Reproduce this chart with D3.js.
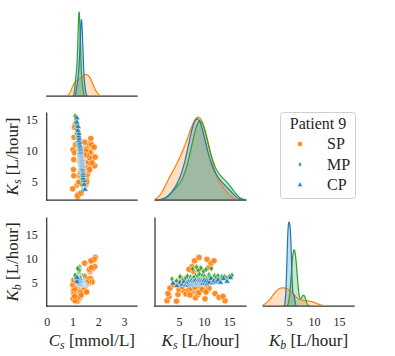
<!DOCTYPE html>
<html><head><meta charset="utf-8">
<script src="https://cdn.jsdelivr.net/npm/d3@7"></script>
<style>body{margin:0;background:#fff}</style>
</head><body><svg id="c" width="395" height="356"></svg>
<script>
// ---------------- data ----------------
const groups = ["SP", "MP", "CP"];
const legendTitle = "Patient 9";
const colors = ["#ff7f0e", "#2ca02c", "#1f77b4"];

const spCs = [1.20,1.23,1.20,1.42,1.33,1.17,1.23,1.37,1.25,1.05,1.27,1.43,1.31,1.04,1.43,1.50,1.28,1.29,1.41,1.43,1.02,1.52,1.32,1.12,1.44,1.06,1.21,1.08,1.34,1.10,1.55,1.08,
  1.52,1.54,1.58,1.64,1.57,1.68,1.62,1.70,1.79,1.72,1.68,1.53,1.76,1.63,1.66,1.51,1.56,1.86,1.55,1.01,1.05,1.66,1.45,1.74,
  1.76,1.88,1.84,1.47,1.71];
const spKs = [2.6,3.0,2.8,6.8,3.2,4.5,4.8,7.7,5.0,8.6,6.0,5.6,6.4,7.0,7.4,8.0,8.3,8.8,9.3,9.2,10.2,10.5,9.0,11.0,8.2,12.2,13.0,9.7,7.2,14.2,10.4,13.8,
  4.6,5.4,6.2,6.8,7.3,7.9,8.2,8.7,9.1,9.5,9.8,10.3,10.7,11.1,8.9,10.0,9.3,7.6,5.0,3.9,6.0,7.0,9.4,11.0,
  8.1,9.0,10.6,11.4,12.0];
const spKb = [1.3,2.2,2.8,3.4,3.9,1.2,2.6,3.1,3.6,3.0,3.3,4.2,2.7,3.5,3.9,4.4,1.9,2.6,3.6,4.3,1.7,3.3,3.0,3.9,4.1,2.8,2.0,3.7,2.5,1.3,3.1,2.2,
  5.2,6.0,4.8,5.6,5.5,7.4,5.0,5.4,8.0,5.8,5.9,4.7,5.2,5.3,7.7,4.9,5.7,8.4,5.1,4.6,5.6,7.8,6.4,8.2,
  9.6,10.3,9.9,9.1,9.6];

const mpCs = [1.40,1.36,1.38,1.33,1.33,1.30,1.33,1.30,1.31,1.28,1.30,1.27,1.30,1.27,1.28,1.25,1.29,1.26,1.28,1.25,1.27,1.24,1.28,1.24,1.26,1.23,1.26,1.24,1.25,1.23,1.25,1.22,1.25,1.22,1.23,1.20,1.23,1.20,1.21,1.18,1.19,1.16,1.18,1.14,1.15,1.11,1.13,1.10,1.30,1.24];
const mpKs = [3.6,4.5,5.2,5.8,6.3,6.7,7.0,7.3,7.5,7.7,7.9,8.1,8.3,8.4,8.5,8.6,8.7,8.8,8.9,9.0,9.1,9.2,9.3,9.4,9.5,9.6,9.7,9.8,9.9,10.0,10.1,10.2,10.4,10.6,10.8,11.0,11.2,11.5,11.8,12.1,12.4,12.8,13.2,13.6,14.1,14.6,15.1,15.6,8.0,9.45];
const mpKb = [5.8,5.4,6.3,5.6,6.0,6.4,5.5,6.2,5.8,7.9,6.1,5.6,6.5,5.9,8.3,5.7,6.4,5.4,7.6,6.0,6.8,5.8,5.6,8.1,6.2,5.9,6.6,5.5,7.4,6.1,6.4,5.8,7.8,6.0,5.7,6.7,6.2,8.0,5.9,6.5,6.1,6.5,5.7,6.3,6.3,6.0,6.4,6.6,6.1,5.7];

const cpCs = [1.49,1.45,1.47,1.41,1.42,1.40,1.42,1.39,1.40,1.36,1.40,1.37,1.40,1.35,1.37,1.36,1.39,1.35,1.37,1.33,1.37,1.35,1.34,1.37,1.32,1.35,1.33,1.35,1.32,1.34,1.30,1.34,1.31,1.32,1.30,1.33,1.30,1.32,1.28,1.30,1.27,1.29,1.24,1.26,1.24,1.25,1.21,1.22,1.17,1.17];
const cpKs = [3.8,4.6,5.2,5.6,6.0,6.3,6.6,6.8,7.0,7.2,7.4,7.5,7.6,7.7,7.8,7.9,8.0,8.1,8.2,8.3,8.4,8.5,8.6,8.7,8.8,8.9,9.0,9.1,9.2,9.3,9.4,9.5,9.6,9.7,9.8,10.0,10.2,10.4,10.6,10.8,11.1,11.4,11.7,12.0,12.4,12.8,13.3,13.9,14.6,15.3];
const cpKb = [4.9,4.4,5.1,4.7,5.2,4.6,5.0,4.5,5.2,4.9,4.7,5.4,4.6,5.1,4.9,5.3,4.6,5.2,4.8,5.5,4.7,5.0,4.8,5.3,4.7,5.1,4.9,5.5,4.8,5.3,5.0,5.4,4.8,5.2,4.9,5.5,4.9,5.4,4.8,5.3,5.1,5.9,5.0,5.4,5.2,5.6,5.1,5.9,5.3,6.1];

const csTicks = [0, 1, 2, 3];
const ksTicks = [5, 10, 15];
const kbTicks = [5, 10, 15];

// ---------------- layout ----------------
const groupData = [[spCs, spKs, spKb], [mpCs, mpKs, mpKb], [cpCs, cpKs, cpKb]];
const varLabels = [["C", "s", " [mmol/L]"], ["K", "s", " [L/hour]"], ["K", "b", " [L/hour]"]];
const varTicks = [csTicks, ksTicks, kbTicks];
const cols = [[46.7, 137], [155, 246], [263, 354]];
const rows = [[8, 96], [113, 200], [218, 306]];
const xDomains = [[0, 3.5], [0.2, 18.4], [-0.2, 18]];
const yDomains = [null, [2.1, 16.1], [0.2, 18.5]];
const FONT = "'Liberation Serif','DejaVu Serif',serif";
const TXT = "#262626", SPINE = "#333";

const svg = d3.select("#c");
const xS = xDomains.map((d, j) => d3.scaleLinear(d, cols[j]));
const yS = yDomains.map((d, i) => d ? d3.scaleLinear(d, [rows[i][1], rows[i][0]]) : null);
const N = d3.sum(groupData, g => g[0].length);

const defs = svg.append("defs");
for (let i = 0; i < 3; i++) for (let j = 0; j <= i; j++) {
  defs.append("clipPath").attr("id", `cp${i}${j}`).append("rect")
    .attr("x", cols[j][0]).attr("y", rows[i][0] - 2)
    .attr("width", cols[j][1] - cols[j][0]).attr("height", rows[i][1] - rows[i][0] + 2);
}

function kde(vals) {
  const n = vals.length;
  const bw = d3.deviation(vals) * Math.pow(n, -0.2);
  const lo = d3.min(vals) - 3 * bw, hi = d3.max(vals) + 3 * bw;
  return d3.range(200).map(k => {
    const x = lo + (hi - lo) * k / 199;
    let s = 0;
    for (const v of vals) { const z = (x - v) / bw; s += Math.exp(-0.5 * z * z); }
    return [x, s / (n * bw * Math.sqrt(2 * Math.PI)) * n / N];
  });
}

const symPaths = [
  d3.symbol(d3.symbolCircle, 30)(),
  "M0,-3.3L2.1,0L0,3.3L-2.1,0Z",
  d3.symbol(d3.symbolTriangle, 17)()
];
const legSymPaths = [
  d3.symbol(d3.symbolCircle, 20)(),
  "M0,-2.8L1.7,0L0,2.8L-1.7,0Z",
  d3.symbol(d3.symbolTriangle, 12)()
];

const spineG = svg.append("g");
function spine(x1, y1, x2, y2) {
  spineG.append("line").attr("x1", x1).attr("y1", y1).attr("x2", x2).attr("y2", y2)
    .attr("stroke", SPINE).attr("stroke-width", 1.25).attr("stroke-linecap", "square");
}

for (let i = 0; i < 3; i++) {
  for (let j = 0; j <= i; j++) {
    const x = xS[j];
    spine(cols[j][0], rows[i][1], cols[j][1], rows[i][1]);
    if (i === j) {
      const curves = groupData.map(g => kde(g[i]));
      const ymax = d3.max(curves, c => d3.max(c, d => d[1]));
      const y = d3.scaleLinear([0, ymax * 1.05], [rows[i][1], rows[i][0]]);
      const area = d3.area().x(d => x(d[0])).y0(y(0)).y1(d => y(d[1]));
      const g = svg.append("g").attr("clip-path", `url(#cp${i}${j})`);
      curves.forEach((c, k) => {
        g.append("path").attr("d", area(c)).attr("fill", colors[k]).attr("fill-opacity", 0.25)
          .attr("stroke", "none");
      });
      curves.forEach((c, k) => {
        g.append("path").attr("d", area(c) + "Z").attr("fill", "none")
          .attr("stroke", colors[k]).attr("stroke-width", 1.2).attr("stroke-linejoin", "round");
      });
    } else {
      spine(cols[j][0], rows[i][0], cols[j][0], rows[i][1]);
      const y = yS[i];
      const g = svg.append("g");
      groupData.forEach((gd, k) => {
        g.selectAll(null).data(d3.range(gd[0].length)).join("path")
          .attr("d", symPaths[k])
          .attr("transform", idx => `translate(${x(gd[j][idx])},${y(gd[i][idx])})`)
          .attr("fill", colors[k]).attr("fill-opacity", 0.9)
          .attr("stroke", "#fff").attr("stroke-width", 0.5);
      });
    }
  }
}
spineG.raise();
svg.selectAll("g[clip-path]").raise();

function styleAxis(g) {
  g.select(".domain").remove();
  g.selectAll("line").remove();
  g.selectAll("text").attr("font-family", FONT).attr("font-size", 12).attr("fill", TXT);
}
for (let j = 0; j < 3; j++) {
  svg.append("g").attr("transform", `translate(0,${rows[2][1]})`)
    .call(d3.axisBottom(xS[j]).tickValues(varTicks[j]).tickSize(0).tickPadding(11).tickFormat(d3.format("d")))
    .call(styleAxis);
}
for (let i = 1; i < 3; i++) {
  svg.append("g").attr("transform", `translate(${cols[0][0]},0)`)
    .call(d3.axisLeft(yS[i]).tickValues(varTicks[i]).tickSize(0).tickPadding(9).tickFormat(d3.format("d")))
    .call(styleAxis);
}

function mathLabel(t, parts, fs) {
  t.attr("font-family", FONT).attr("font-size", fs).attr("fill", TXT).attr("text-anchor", "middle");
  t.append("tspan").attr("font-style", "italic").text(parts[0]);
  t.append("tspan").attr("font-style", "italic").attr("font-size", fs * 0.7).attr("dy", 3).text(parts[1]);
  t.append("tspan").attr("dy", -3).text(parts[2]);
}
for (let j = 0; j < 3; j++) {
  const t = svg.append("text").attr("x", (cols[j][0] + cols[j][1]) / 2).attr("y", 346);
  mathLabel(t, varLabels[j], 17);
}
for (let i = 1; i < 3; i++) {
  const cy = (rows[i][0] + rows[i][1]) / 2;
  const t = svg.append("text").attr("transform", `translate(18,${cy}) rotate(-90)`);
  mathLabel(t, varLabels[i], 17);
}

const lg = svg.append("g");
lg.append("rect").attr("x", 280.5).attr("y", 112.5).attr("width", 75).attr("height", 86).attr("rx", 3)
  .attr("fill", "#fff").attr("fill-opacity", 0.8).attr("stroke", "#d0d0d0").attr("stroke-width", 1);
lg.append("text").attr("x", 318).attr("y", 128.5).attr("text-anchor", "middle")
  .attr("font-family", FONT).attr("font-size", 16).attr("fill", TXT).text(legendTitle);
groups.forEach((name, k) => {
  const yy = 144 + k * 20.5;
  lg.append("path").attr("d", legSymPaths[k]).attr("transform", `translate(300,${yy})`)
    .attr("fill", colors[k]).attr("fill-opacity", 0.9).attr("stroke", "#fff").attr("stroke-width", 0.4);
  lg.append("text").attr("x", 327).attr("y", yy + 5).attr("font-family", FONT).attr("font-size", 16)
    .attr("fill", TXT).text(name);
});
</script>
</body></html>
